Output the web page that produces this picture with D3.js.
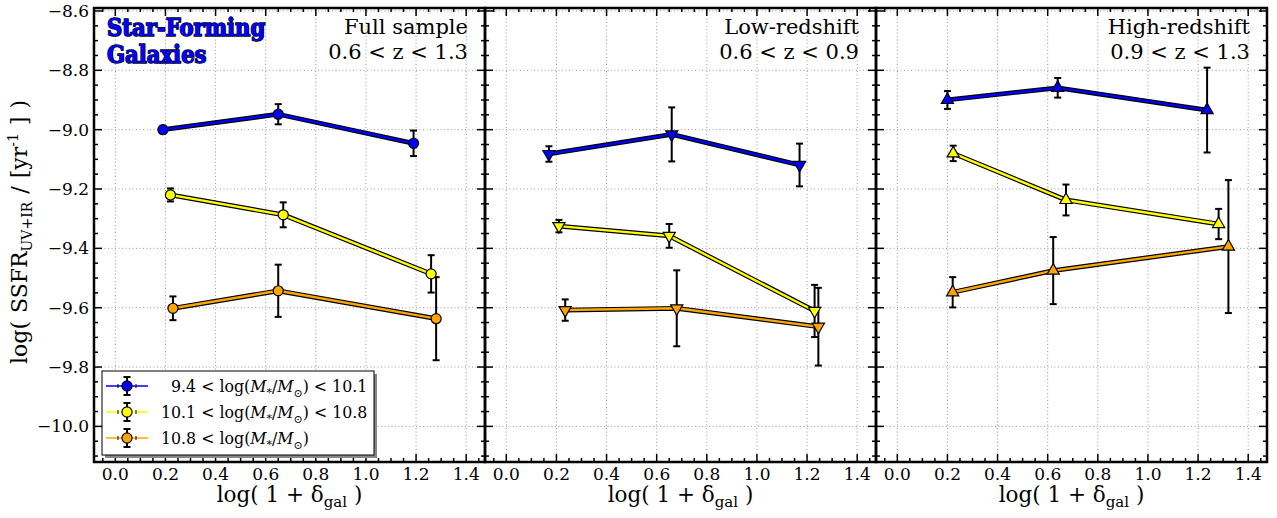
<!DOCTYPE html>
<html>
<head>
<meta charset="utf-8">
<script src="https://cdn.jsdelivr.net/npm/d3@7"></script>
<style>
  body { margin: 0; background: #fff; }
  text { font-family: "DejaVu Serif", serif; fill: #000; }
</style>
</head>
<body>
<svg id="chart" width="1277" height="518"></svg>
<script>
'use strict'

// tick values
const xTicks = [0.0, 0.2, 0.4, 0.6, 0.8, 1.0, 1.2, 1.4]
const yTicks = [-8.6, -8.8, -9.0, -9.2, -9.4, -9.6, -9.8, -10.0]

// panels
const panelTitles = ['Full sample', 'Low-redshift', 'High-redshift']
const panelZ = ['0.6 < z < 1.3', '0.6 < z < 0.9', '0.9 < z < 1.3']

// mass bins
const binLow = ['9.4', '10.1', '10.8']
const binHigh = ['10.1', '10.8', null]
const binColors = ['#0000ff', '#ffff00', '#ffa500']

// Full sample: one row per mass bin
const fullX = [[0.19, 0.65, 1.19], [0.22, 0.67, 1.26], [0.23, 0.65, 1.28]]
const fullY = [[-9.00, -8.948, -9.046], [-9.220, -9.287, -9.486], [-9.602, -9.543, -9.637]]
const fullErr = [[0.012, 0.034, 0.043], [0.022, 0.042, 0.063], [0.040, 0.088, 0.140]]

// Low-redshift
const lowX = [[0.17, 0.66, 1.17], [0.21, 0.65, 1.23], [0.235, 0.68, 1.245]]
const lowY = [[-9.082, -9.016, -9.119], [-9.325, -9.358, -9.611], [-9.608, -9.602, -9.664]]
const lowErr = [[0.026, 0.091, 0.072], [0.021, 0.040, 0.088], [0.036, 0.128, 0.131]]

// High-redshift
const highX = [[0.20, 0.64, 1.236], [0.223, 0.673, 1.282], [0.221, 0.622, 1.321]]
const highY = [[-8.900, -8.859, -8.934], [-9.080, -9.237, -9.318], [-9.548, -9.475, -9.394]]
const highErr = [[0.030, 0.033, 0.143], [0.026, 0.052, 0.051], [0.051, 0.113, 0.224]]

const panelData = [
  { x: fullX, y: fullY, err: fullErr, marker: 'circle' },
  { x: lowX, y: lowY, err: lowErr, marker: 'down' },
  { x: highX, y: highY, err: highErr, marker: 'up' }
]

const svg = d3.select('#chart')
const panelLeft = 94
const panelW = 391
const plotTop = 8
const plotBottom = 462

const y = d3.scaleLinear().domain([-10.12, -8.59]).range([plotBottom, plotTop])

function markerPath(kind) {
  if (kind === 'circle') return d3.symbol(d3.symbolCircle, 80)()
  return d3.symbol(d3.symbolTriangle, 64)()
}

function drawMarker(g, kind, cx, cy, color) {
  g.append('path')
    .attr('d', markerPath(kind))
    .attr('transform', 'translate(' + cx + ',' + cy + ')' + (kind === 'down' ? ' rotate(180)' : ''))
    .attr('fill', color)
    .attr('stroke', '#000')
    .attr('stroke-width', 1.2)
}

function range(a, b, step) {
  const out = []
  for (let v = a; v <= b + 1e-9; v += step) out.push(+v.toFixed(4))
  return out
}

panelData.forEach(function(p, i) {
  const x0 = panelLeft + i * panelW
  const x = d3.scaleLinear().domain([-0.085, 1.475]).range([x0, x0 + panelW])
  const g = svg.append('g')

  // grid
  g.selectAll('.gx').data(xTicks).enter().append('line')
    .attr('x1', d => x(d)).attr('x2', d => x(d))
    .attr('y1', plotTop).attr('y2', plotBottom)
    .attr('stroke', '#999').attr('stroke-width', 1).attr('stroke-dasharray', '1,2.5')
  g.selectAll('.gy').data(yTicks).enter().append('line')
    .attr('x1', x0).attr('x2', x0 + panelW)
    .attr('y1', d => y(d)).attr('y2', d => y(d))
    .attr('stroke', '#999').attr('stroke-width', 1).attr('stroke-dasharray', '1,2.5')

  // ticks (inward, all four sides)
  const xMinor = range(-0.05, 1.45, 0.05)
  const yMinor = range(-10.1, -8.6, 0.05)
  xMinor.forEach(function(v) {
    const major = xTicks.some(t => Math.abs(t - v) < 1e-6)
    const len = major ? 8 : 4
    g.append('line').attr('x1', x(v)).attr('x2', x(v)).attr('y1', plotBottom).attr('y2', plotBottom - len)
      .attr('stroke', '#000').attr('stroke-width', 1.5)
    g.append('line').attr('x1', x(v)).attr('x2', x(v)).attr('y1', plotTop).attr('y2', plotTop + len)
      .attr('stroke', '#000').attr('stroke-width', 1.5)
  })
  yMinor.forEach(function(v) {
    const major = yTicks.some(t => Math.abs(t - v) < 1e-6)
    const len = major ? 8 : 4
    g.append('line').attr('x1', x0).attr('x2', x0 + len).attr('y1', y(v)).attr('y2', y(v))
      .attr('stroke', '#000').attr('stroke-width', 1.5)
    g.append('line').attr('x1', x0 + panelW).attr('x2', x0 + panelW - len).attr('y1', y(v)).attr('y2', y(v))
      .attr('stroke', '#000').attr('stroke-width', 1.5)
  })

  // x tick labels
  g.selectAll('.xl').data(xTicks).enter().append('text')
    .attr('x', d => x(d)).attr('y', 480)
    .attr('text-anchor', 'middle')
    .style('font-size', '17px')
    .text(d => d.toFixed(1))

  // x axis label
  const xl = g.append('text')
    .attr('x', x0 + panelW / 2).attr('y', 502)
    .attr('text-anchor', 'middle')
    .style('font-size', '21.5px')
  xl.append('tspan').text('log( 1 + δ')
  xl.append('tspan').attr('dy', 5).style('font-size', '15px').text('gal')
  xl.append('tspan').attr('dy', -5).text(' )')

  // series
  p.x.forEach(function(xs, b) {
    const pts = xs.map((xv, k) => [x(xv), y(p.y[b][k])])
    const line = d3.line()
    g.append('path').attr('d', line(pts)).attr('fill', 'none')
      .attr('stroke', '#000').attr('stroke-width', 4.8).attr('stroke-linejoin', 'round')
    g.append('path').attr('d', line(pts)).attr('fill', 'none')
      .attr('stroke', binColors[b]).attr('stroke-width', 2.4).attr('stroke-linejoin', 'round')
  })
  p.x.forEach(function(xs, b) {
    xs.forEach(function(xv, k) {
      const cx = x(xv)
      const y1 = y(p.y[b][k] + p.err[b][k])
      const y2 = y(p.y[b][k] - p.err[b][k])
      g.append('line').attr('x1', cx).attr('x2', cx).attr('y1', y1).attr('y2', y2)
        .attr('stroke', '#000').attr('stroke-width', 2)
      ;[y1, y2].forEach(function(yy) {
        g.append('line').attr('x1', cx - 3.5).attr('x2', cx + 3.5).attr('y1', yy).attr('y2', yy)
          .attr('stroke', '#000').attr('stroke-width', 2)
      })
    })
  })
  p.x.forEach(function(xs, b) {
    xs.forEach(function(xv, k) {
      drawMarker(g, p.marker, x(xv), y(p.y[b][k]), binColors[b])
    })
  })

  // frame
  g.append('rect').attr('x', x0).attr('y', plotTop).attr('width', panelW).attr('height', plotBottom - plotTop)
    .attr('fill', 'none').attr('stroke', '#000').attr('stroke-width', 2.5)

  // panel titles
  g.append('text').attr('x', x0 + panelW - 17).attr('y', 34)
    .attr('text-anchor', 'end').style('font-size', '21px').text(panelTitles[i])
  g.append('text').attr('x', x0 + panelW - 17).attr('y', 59)
    .attr('text-anchor', 'end').style('font-size', '21px').text(panelZ[i])
})

// y tick labels
svg.selectAll('.yl').data(yTicks).enter().append('text')
  .attr('x', 89).attr('y', d => y(d) + 6)
  .attr('text-anchor', 'end')
  .style('font-size', '17px')
  .text(d => d3.format('.1f')(d).replace('-', '\u2212'))

// y axis label
const yl = svg.append('text')
  .attr('transform', 'translate(27,232) rotate(-90)')
  .attr('text-anchor', 'middle')
  .style('font-size', '22px')
  .style('word-spacing', '1px')
yl.append('tspan').text('log( SSFR')
yl.append('tspan').attr('dy', 5).style('font-size', '14px').text('UV+IR')
yl.append('tspan').attr('dy', -5).text(' / [yr')
yl.append('tspan').attr('dy', -9).style('font-size', '14px').text('-1')
yl.append('tspan').attr('dy', 9).text(' ] )')

// "Star-Forming Galaxies"
;['Star-Forming', 'Galaxies'].forEach(function(t, k) {
  svg.append('text')
    .attr('x', 107).attr('y', 36 + k * 27)
    .style('font-size', '23.5px').style('font-weight', 'bold')
    .style('font-stretch', 'condensed')
    .style('fill', '#0000ff').style('stroke', '#000').style('stroke-width', 1.4)
    .style('paint-order', 'stroke')
    .text(t)
})

// legend
const lg = svg.append('g')
lg.append('rect').attr('x', 105).attr('y', 374).attr('width', 272).attr('height', 84).attr('fill', '#888')
lg.append('rect').attr('x', 102).attr('y', 371).attr('width', 272).attr('height', 84)
  .attr('fill', '#fff').attr('stroke', '#000').attr('stroke-width', 1)
binLow.forEach(function(lo, b) {
  const cy = 386 + b * 26
  const cx = 127
  lg.append('line').attr('x1', 106).attr('x2', 148).attr('y1', cy).attr('y2', cy)
    .attr('stroke', binColors[b]).attr('stroke-width', 1.5)
  lg.append('line').attr('x1', cx).attr('x2', cx).attr('y1', cy - 9).attr('y2', cy + 9)
    .attr('stroke', '#000').attr('stroke-width', 2)
  ;[cy - 9, cy + 9].forEach(function(yy) {
    lg.append('line').attr('x1', cx - 3.5).attr('x2', cx + 3.5).attr('y1', yy).attr('y2', yy)
      .attr('stroke', '#000').attr('stroke-width', 2)
  })
  ;[cx - 9, cx + 9].forEach(function(xx) {
    lg.append('line').attr('x1', xx).attr('x2', xx).attr('y1', cy - 2).attr('y2', cy + 2)
      .attr('stroke', '#000').attr('stroke-width', 1)
  })
  drawMarker(lg, 'circle', cx, cy, binColors[b])

  const t = lg.append('text').attr('x', b === 0 ? 171 : 161).attr('y', cy + 6).style('font-size', '15.8px')
  t.append('tspan').text(lo + ' < log(')
  t.append('tspan').style('font-style', 'italic').text('M')
  t.append('tspan').attr('dy', 4).style('font-size', '11px').text('*')
  t.append('tspan').attr('dy', -4).text('/')
  t.append('tspan').style('font-style', 'italic').text('M')
  t.append('tspan').attr('dy', 5).style('font-size', '11px').text('\u2299')
  t.append('tspan').attr('dy', -5).text(')' + (binHigh[b] ? ' < ' + binHigh[b] : ''))
})
</script>
</body>
</html>
